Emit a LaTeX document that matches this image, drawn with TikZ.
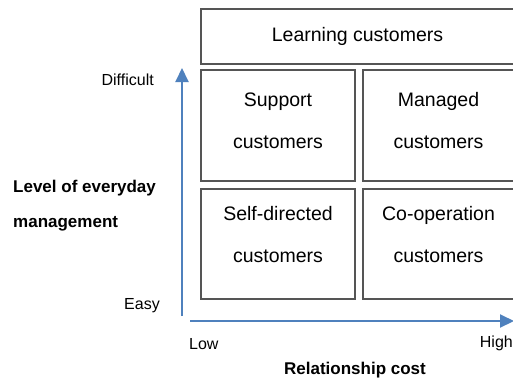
\documentclass[tikz,border=0pt]{standalone}
\usepackage{fontspec}
\setmainfont{Liberation Sans}
\usepackage{tikz}
\usetikzlibrary{arrows.meta, positioning}
\definecolor{axisblue}{RGB}{79,129,189}
\definecolor{boxgray}{RGB}{85,85,85}
\tikzset{
  cell/.style = {draw=boxgray, line width=1.3pt, inner sep=0pt},
  celltext/.style = {align=center, inner sep=0pt,
    font=\fontsize{19.5}{42}\selectfont},
  ticklabel/.style = {inner sep=0pt, font=\fontsize{16}{19}\selectfont},
  axislabel/.style = {inner sep=0pt, font=\fontsize{17}{35}\selectfont\bfseries},
  axis/.style = {axisblue, line width=2pt,
    -{Triangle[length=14pt,width=13pt]}}
}
\begin{document}
\begin{tikzpicture}[x=1pt, y=-1pt]
\useasboundingbox[fill=white] (0,0) rectangle (513,383);
% boxes
\node [cell, minimum width=313pt, minimum height=55pt] (learn) at (357.5,36.5) {};
\node [celltext] at (learn.center) {Learning customers};
\node [cell, minimum width=154pt, minimum height=111pt] (support) at (278,125.5) {};
\node [cell, minimum width=151pt, minimum height=111pt] (managed) at (438.5,125.5) {};
\node [cell, minimum width=154pt, minimum height=110pt] (selfdir) at (278,244) {};
\node [cell, minimum width=151pt, minimum height=110pt] (coop) at (438.5,244) {};
\node [celltext] (supporttext) at ([yshift=5pt]support.center) {Support\\customers};
\node [celltext] (managedtext) at ([yshift=5pt]managed.center) {Managed\\customers};
\node [celltext] (selfdirtext) at ([yshift=9pt]selfdir.center) {Self-directed\\customers};
\node [celltext] (cooptext) at ([yshift=9pt]coop.center) {Co-operation\\customers};
% axes
\coordinate (ylow) at (182,316);
\coordinate (yhigh) at (182,68);
\coordinate (xlow) at (190,321);
\coordinate (xhigh) at (514,321);
\draw [axis] (ylow) -- (yhigh);
\draw [axis] (xlow) -- (xhigh);
% labels
\node [ticklabel, anchor=east] (difficult) at (154,80) {Difficult};
\node [ticklabel, anchor=east] (easy) at (160,306) {Easy};
\node [ticklabel, anchor=west] (low) at (189,344) {Low};
\node [ticklabel, anchor=east] (high) at (513,343) {High};
\node [axislabel, anchor=west, align=left] (level) at (13,205.5) {Level of everyday\\management};
\node [axislabel] (cost) at (355,370) {Relationship cost};
\end{tikzpicture}
\end{document}
